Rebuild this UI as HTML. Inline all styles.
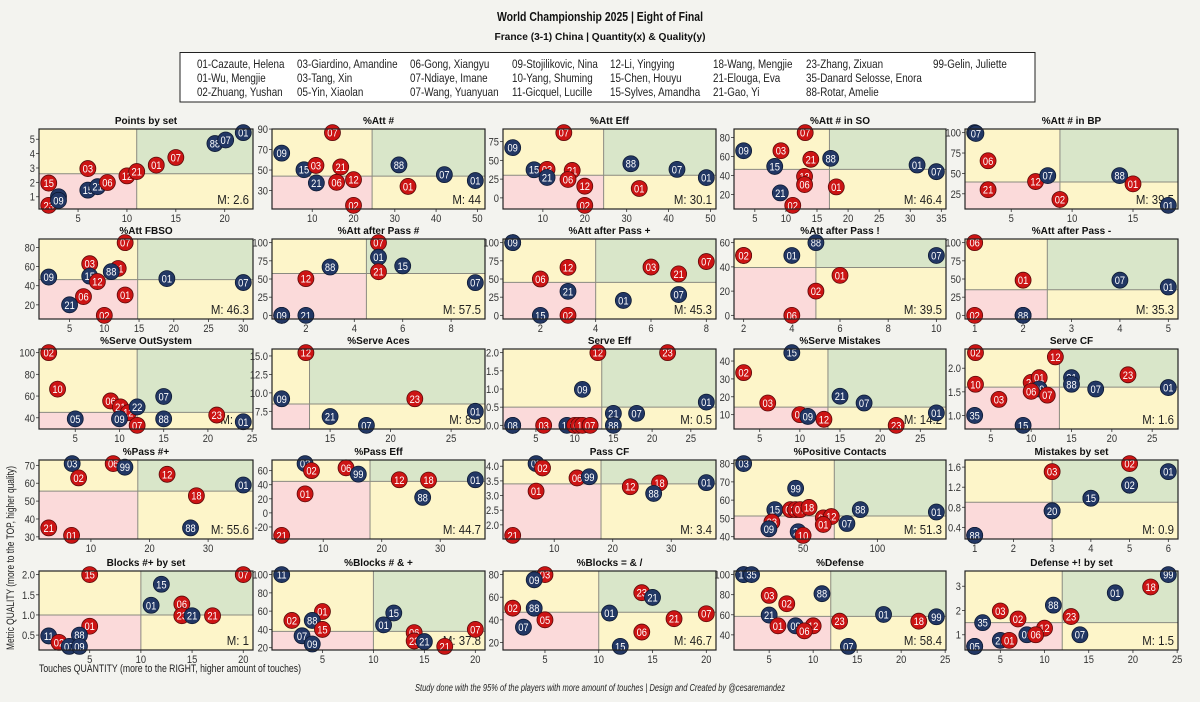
<!DOCTYPE html>
<html><head><meta charset="utf-8">
<style>
html,body{margin:0;padding:0;background:#f3f3ef;}
svg{display:block;font-family:"Liberation Sans",sans-serif;}
</style></head>
<body>
<svg id="fig" width="1200" height="702" viewBox="0 0 1200 702" xmlns="http://www.w3.org/2000/svg">
<rect x="0" y="0" width="1200" height="702" fill="#f3f3ef"/>
<text x="600" y="21" text-anchor="middle" font-weight="bold" font-size="13" textLength="206" lengthAdjust="spacingAndGlyphs" fill="#111">World Championship 2025 | Eight of Final</text>
<text x="600" y="40" text-anchor="middle" font-weight="bold" font-size="10" textLength="211" lengthAdjust="spacingAndGlyphs" fill="#111">France (3-1) China | Quantity(x) &amp; Quality(y)</text>
<g>
<rect x="180" y="52.5" width="855" height="49.5" fill="#ffffff" stroke="#222" stroke-width="1"/>
<g font-size="12" fill="#222" transform="scale(0.82,1)">
<text x="240.2" y="68">01-Cazaute, Helena</text>
<text x="240.2" y="82">01-Wu, Mengjie</text>
<text x="240.2" y="96">02-Zhuang, Yushan</text>
<text x="362.2" y="68">03-Giardino, Amandine</text>
<text x="362.2" y="82">03-Tang, Xin</text>
<text x="362.2" y="96">05-Yin, Xiaolan</text>
<text x="500" y="68">06-Gong, Xiangyu</text>
<text x="500" y="82">07-Ndiaye, Imane</text>
<text x="500" y="96">07-Wang, Yuanyuan</text>
<text x="624.4" y="68">09-Stojilikovic, Nina</text>
<text x="624.4" y="82">10-Yang, Shuming</text>
<text x="624.4" y="96">11-Gicquel, Lucille</text>
<text x="743.9" y="68">12-Li, Yingying</text>
<text x="743.9" y="82">15-Chen, Houyu</text>
<text x="743.9" y="96">15-Sylves, Amandha</text>
<text x="869.5" y="68">18-Wang, Mengjie</text>
<text x="869.5" y="82">21-Elouga, Eva</text>
<text x="869.5" y="96">21-Gao, Yi</text>
<text x="982.9" y="68">23-Zhang, Zixuan</text>
<text x="982.9" y="82">35-Danard Selosse, Enora</text>
<text x="982.9" y="96">88-Rotar, Amelie</text>
<text x="1137.8" y="68">99-Gelin, Juliette</text>
</g></g>
<text transform="translate(14,558) rotate(-90)" text-anchor="middle" font-size="11" textLength="184" lengthAdjust="spacingAndGlyphs" fill="#222">Metric QUALITY (more to the TOP, higher quality)</text>
<text x="39" y="672" font-size="11" textLength="262" lengthAdjust="spacingAndGlyphs" fill="#222">Touches QUANTITY (more to the RIGHT, higher amount of touches)</text>
<text x="600" y="691" text-anchor="middle" font-size="10" textLength="370" lengthAdjust="spacingAndGlyphs" font-style="italic" fill="#222">Study done with the 95% of the players with more amount of touches | Design and Created by @cesaremandez</text>
<g id="panels"></g>
</svg>
<script>
const titles = ["Points by set","%Att #","%Att Eff","%Att # in SO","%Att # in BP",
"%Att FBSO","%Att after Pass #","%Att after Pass +","%Att after Pass !","%Att after Pass -",
"%Serve OutSystem","%Serve Aces","Serve Eff","%Serve Mistakes","Serve CF",
"%Pass #+","%Pass Eff","Pass CF","%Positive Contacts","Mistakes by set",
"Blocks #+ by set","%Blocks # & +","%Blocks = & /","%Defense","Defense +! by set"];
const xTicks = [[5,10,15,20],[10,20,30,40,50],[10,20,30,40,50],[5,10,15,20,25,30,35],[5,10,15],
[5,10,15,20,25,30],[2,4,6,8],[2,4,6,8],[2,4,6,8,10],[1,2,3,4,5],
[5,10,15,20,25],[15,20,25],[5,10,15,20,25],[5,10,15,20,25],[5,10,15,20,25],
[10,20,30],[10,20,30],[10,20,30],[50,100],[1,2,3,4,5,6],
[5,10,15,20],[5,10,15,20],[5,10,15,20],[5,10,15,20,25],[5,10,15,20,25]];
const yTicks = [[1,2,3,4,5],[30,50,70,90],[0,25,50,75],[20,40,60,80],[25,50,75,100],
[20,40,60,80],[0,25,50,75,100],[0,25,50,75,100],[0,20,40,60],[0,25,50,75,100],
[40,60,80,100],[7.5,10.0,12.5,15.0],[0.0,0.5,1.0,1.5,2.0],[10,20,30,40],[1.0,1.5,2.0],
[30,40,50,60,70],[-20,0,20,40,60],[2.0,2.5,3.0,3.5,4.0],[40,50,60,70,80],[0.4,0.8,1.2,1.6],
[0.5,1.0,1.5,2.0],[20,40,60,80,100],[20,40,60,80],[40,60,80,100],[1,2,3]];
const yDecimals = [0,0,0,0,0, 0,0,0,0,0, 0,1,1,0,1, 0,0,1,0,1, 1,0,0,0,0];
const xMedians = [11,24.5,24.5,17,9, 14.8,4.5,4,5,2.5, 12,13.3,13.5,13.5,13.5, 18,18,18,71,3, 10,10,10,12,12];
const yMedians = [2.6,44,30.1,46.4,39.5, 46.3,57.5,45.3,39.5,35.3, 45,8.5,0.5,14.2,1.6, 55.6,44.7,3.4,51.3,0.9, 1,37.8,46.7,58.4,1.5];
const points = [
[["23","r",2,0.4],["15","r",2,1.95],["03","b",3,1.0],["09","b",3,0.75],["15","b",6,1.46],["21","b",7,1.7],["06","r",8,1.99],["03","r",6,2.96],["12","r",10,2.45],["21","r",11,2.75],["01","r",13,3.2],["07","r",15,3.73],["88","b",19,4.7],["07","b",20.1,4.95],["01","b",21.9,5.46]],
[["09","b",2.6,66.5],["07","r",14.9,86.5],["15","b",8,50.3],["03","r",10.9,54.5],["21","r",16.9,53],["21","b",11,37.4],["06","r",15.9,38],["12","r",20,40.6],["02","r",20,15.5],["88","b",31,55],["07","b",42,45.5],["01","b",49.5,39.7],["01","r",33.2,34]],
[["07","r",15,87],["09","b",2.8,67],["15","b",7.9,37.5],["03","r",11,38],["21","b",11,27.2],["21","r",17,36.6],["06","r",16,24.5],["12","r",20,15.6],["02","r",20,-10],["88","b",31,45.5],["07","b",42,38],["01","b",49,27],["01","r",33,12.5]],
[["09","b",3.2,66],["03","r",9.2,66],["07","r",13.1,85],["21","r",14,57],["88","b",17.2,58],["15","b",8.2,49.5],["12","r",13,39],["06","r",13,30.4],["21","b",9.1,21.7],["02","r",11.1,8.6],["01","r",18.1,28],["01","b",31.1,51],["07","b",34.2,44]],
[["09","b",2,100],["07","b",2.1,99],["06","r",3.1,65.5],["21","r",3.1,30],["12","r",7,40],["07","b",8,47.3],["02","r",9,18],["88","b",13.9,47.3],["01","r",15,37.2],["01","b",17.9,10.8]],
[["07","r",13,85],["03","r",7.9,63],["21","r",12,58],["88","b",11,54.7],["15","b",7.9,50],["12","r",9,44.3],["09","b",2,49],["06","r",7,28.6],["21","b",5,20],["01","r",13,30.3],["02","r",10,9],["01","b",19,47.4],["07","b",30,43.3]],
[["07","r",5,100],["01","b",5,80],["15","b",6,68],["21","r",5,60],["88","b",3,66.5],["12","r",2,50.5],["07","b",9,45],["03","b",1,0],["09","b",1,0],["21","b",2,0]],
[["88","b",1,100],["09","b",1,100],["12","r",3,66],["06","r",2,50],["21","b",3,33],["15","b",2,0],["02","r",3,0],["01","b",5,20.5],["03","r",6,66.4],["21","r",7,57],["07","r",8,74],["07","b",7,28.6]],
[["03","r",2,49.4],["02","r",2,49.4],["01","b",4,49.4],["88","b",5,60],["07","b",10,49.4],["01","r",6,33],["02","r",5,20],["06","r",4,0]],
[["06","r",1,100],["01","r",2,48.4],["07","b",4,48.4],["01","b",5,39],["02","r",1,0],["12","b",2,0],["88","b",2,0]],
[["02","r",2,100],["10","r",3,66.4],["06","r",9,55.5],["21","r",10.1,50],["12","r",11,44.7],["22","b",12,50],["07","r",12,33],["05","b",5,39],["09","b",10,39],["07","b",15,59.6],["88","b",15,39],["23","r",21,42.5],["01","b",24,36.3]],
[["12","r",13,15.45],["09","b",11,9.2],["23","r",22,9.2],["21","b",15,6.8],["07","b",18,5.6],["01","b",27,7.5]],
[["12","r",13,2.0],["23","r",22,2.0],["09","b",11,0.99],["01","b",27,0.64],["21","b",15,0.33],["07","b",18,0.33],["88","b",15,0],["03","b",2,0],["08","b",2,0],["03","r",6,0],["15","b",9,0],["21","r",10,0],["06","r",10.5,0],["10","r",11,0],["07","r",12,0]],
[["15","b",9,44.7],["02","r",3,33.5],["03","r",6,16.5],["06","r",10,10],["09","b",11,9],["12","r",13,7.4],["21","b",15,20.3],["07","b",18,16.5],["01","b",27,11],["23","r",22,4]],
[["02","r",3.1,2.33],["12","r",13,2.24],["23","r",22,1.86],["10","r",3.1,1.66],["21","r",10,1.7],["01","r",11,1.8],["09","b",11,1.56],["06","r",10,1.51],["07","r",12,1.43],["03","r",6,1.34],["21","b",15,1.8],["88","b",15,1.66],["07","b",18,1.56],["01","b",27,1.59],["35","b",3,1.0],["15","b",9,0.79]],
[["03","b",6.8,71],["06","r",13.8,71],["99","b",15.8,69],["02","r",7.9,63],["12","r",23,65],["01","b",36,59],["18","r",28,53],["21","r",2.8,35],["01","r",6.7,30.8],["88","b",27,35]],
[["03","b",6.9,70],["02","r",8,60],["06","r",13.9,64],["99","b",16,55],["12","r",23,47],["18","r",28,46.5],["01","b",36,47],["88","b",27,22],["01","r",6.9,27],["21","r",2.9,-32]],
[["03","b",6.9,4.09],["02","r",8,3.94],["06","r",13.9,3.6],["99","b",16,3.64],["01","r",6.9,3.15],["12","r",23,3.3],["18","r",28,3.43],["88","b",27,3.07],["01","b",36,3.44],["21","r",2.9,1.64]],
[["03","b",10,80],["99","b",45,66.5],["15","b",31,54.8],["02","r",41.5,54.8],["20","r",45,54.8],["07","r",48,54.8],["18","r",54,56],["06","r",63.6,50.3],["12","r",69,51],["01","r",63.6,46.7],["03","r",29,48],["09","b",27,44.3],["21","b",46.7,42.7],["10","r",50,40.7],["07","b",79.5,47.2],["88","b",88.5,54.8],["01","b",139.7,53.5]],
[["03","r",3,1.51],["02","r",5,1.67],["01","b",6,1.51],["12","b",5,1.24],["02","b",5,1.24],["05","b",4,0.98],["15","b",4,0.98],["26","b",3,0.73],["20","b",3,0.73],["89","b",1,0.24],["88","b",1,0.24]],
[["15","r",5,2.0],["07","r",20,2.0],["15","b",12,1.76],["01","b",11,1.24],["06","r",14,1.27],["23","r",14,0.98],["21","b",15,0.98],["21","r",17,0.98],["01","r",5,0.72],["11","b",1,0.48],["88","b",4,0.5],["02","r",2,0.32],["07","b",3,0.22],["09","b",4,0.22]],
[["11","b",1,100],["01","r",5,59.6],["02","r",2,49.8],["88","b",4,49.8],["15","r",5,40],["07","b",3,33],["09","b",4,24],["15","b",12,58],["01","b",11,45],["06","r",14,36.5],["23","r",14,27.4],["21","b",15,26.7],["21","r",17,21.4],["07","r",20,40]],
[["03","r",5,80],["09","b",4,75.4],["02","r",2,50.3],["88","b",4,50.3],["05","r",5,40],["07","b",3,33.5],["01","b",11,46],["23","r",14,64],["21","b",15,59.8],["21","r",17,41],["07","r",20,45.4],["06","r",14,29.2],["15","b",12,16.5]],
[["09","b",2.1,100],["15","b",2.1,100],["35","b",3,100],["03","r",5,79.3],["02","r",7,71],["88","b",11,81],["21","b",5,59.7],["01","r",6,49],["09","b",8,49],["12","r",10,49],["06","r",9,44],["23","r",13,53.6],["01","b",18,60.3],["18","r",22,53.6],["99","b",24,58],["07","b",14,28.5]],
[["99","b",24,3.48],["18","r",22,2.97],["01","b",18,2.73],["88","b",11,2.22],["23","r",13,1.75],["03","r",5,1.98],["02","r",7,1.65],["35","b",3,1.5],["12","r",10,1.27],["09","b",8,1],["06","r",9,1],["07","b",14,1],["21","b",5,0.77],["01","r",6,0.77],["03","b",2.1,0.52],["05","b",2.1,0.52]]
];
const colX = [[39,253],[272,485],[503,716],[734,946],[965,1178]];
const rowY = [[129,209],[239,319],[349,429],[460,539],[571,650]];
const NS = "http://www.w3.org/2000/svg";
function mk(tag, attrs, parent){const e=document.createElementNS(NS,tag);for(const k in attrs)e.setAttribute(k,attrs[k]);parent.appendChild(e);return e;}
const root = document.getElementById('panels');
function fmt(v,d){return d? v.toFixed(d): String(v);}
for(let i=0;i<25;i++){
  const c=i%5, r=Math.floor(i/5);
  const L=colX[c][0], R=colX[c][1], T=rowY[r][0], B=rowY[r][1];
  const pts=points[i];
  let xmin=Infinity,xmax=-Infinity,ymin=Infinity,ymax=-Infinity;
  pts.forEach(p=>{xmin=Math.min(xmin,p[2]);xmax=Math.max(xmax,p[2]);ymin=Math.min(ymin,p[3]);ymax=Math.max(ymax,p[3]);});
  const mx=(xmax-xmin)*0.05, my=(ymax-ymin)*0.05;
  xmin-=mx;xmax+=mx;ymin-=my;ymax+=my;
  const sx=v=>L+(v-xmin)/(xmax-xmin)*(R-L);
  const sy=v=>B-(v-ymin)/(ymax-ymin)*(B-T);
  const g=mk('g',{},root);
  
  
  const t=mk('text',{x:(L+R)/2,y:T-5,'text-anchor':'middle','font-weight':'bold','font-size':'10',fill:'#111'},g);
  t.textContent=titles[i];
  
  
  const xm=Math.max(L,Math.min(R,sx(xMedians[i]))), ym=Math.max(T,Math.min(B,sy(yMedians[i])));
  const q1=mk('rect',{x:L,y:T,width:xm-L,height:ym-T,fill:'#fdf5c9'},g);
  
  
  const q2=mk('rect',{x:xm,y:T,width:R-xm,height:ym-T,fill:'#d9e6c9'},g);
  
  
  const q3=mk('rect',{x:L,y:ym,width:xm-L,height:B-ym,fill:'#fbdada'},g);
  
  
  const q4=mk('rect',{x:xm,y:ym,width:R-xm,height:B-ym,fill:'#fdf5c9'},g);
  
  
  const vl=mk('line',{x1:xm,x2:xm,y1:T,y2:B,stroke:'#8a8a80','stroke-width':1},g);
  
  
  const hl=mk('line',{x1:L,x2:R,y1:ym,y2:ym,stroke:'#8a8a80','stroke-width':1},g);
  
  
  xTicks[i].forEach(v=>{const X=sx(v);if(X<L-2||X>R+2)return;
    mk('line',{x1:X,x2:X,y1:B,y2:B+3,stroke:'#333','stroke-width':0.8},g);
    const tt=mk('text',{x:X,y:B+13,'text-anchor':'middle','font-size':'11',fill:'#333',transform:'translate('+X+',0) scale(0.85,1) translate('+(-X)+',0)'},g);tt.textContent=v;
    
    });
  yTicks[i].forEach(v=>{const Y=sy(v);if(Y<T-3||Y>B+3)return;
    mk('line',{x1:L-3,x2:L,y1:Y,y2:Y,stroke:'#333','stroke-width':0.8},g);
    const tt=mk('text',{x:L-4,y:Y+4,'text-anchor':'end','font-size':'11',fill:'#333',transform:'translate('+(L-4)+',0) scale(0.85,1) translate('+(-(L-4))+',0)'},g);tt.textContent=fmt(v,yDecimals[i]);
    
    });
  const mt=mk('text',{x:R-4,y:B-5,'text-anchor':'end','font-size':'13',fill:'#222',transform:'translate('+(R-4)+',0) scale(0.88,1) translate('+(-(R-4))+',0)'},g);
  mt.textContent='M: '+yMedians[i];
  
  
  pts.forEach(p=>{
    const X=sx(p[2]),Y=sy(p[3]);
    const pg=mk('g',{},g);
    
    
    mk('circle',{cx:X,cy:Y,r:8,fill:p[1]==='r'?'#cc1414':'#223764',stroke:p[1]==='r'?'#5a0a0a':'#0e1a33','stroke-width':0.8},pg);
    const lt=mk('text',{x:X,y:Y+4,'text-anchor':'middle','font-size':'11',fill:'#ffffff',transform:'translate('+X+',0) scale(0.85,1) translate('+(-X)+',0)'},pg);
    lt.textContent=p[0];
  });
  const fr=mk('rect',{x:L,y:T,width:R-L,height:B-T,fill:'none',stroke:'#222','stroke-width':1.2},g);
  
  
}
</script>
</body></html>
